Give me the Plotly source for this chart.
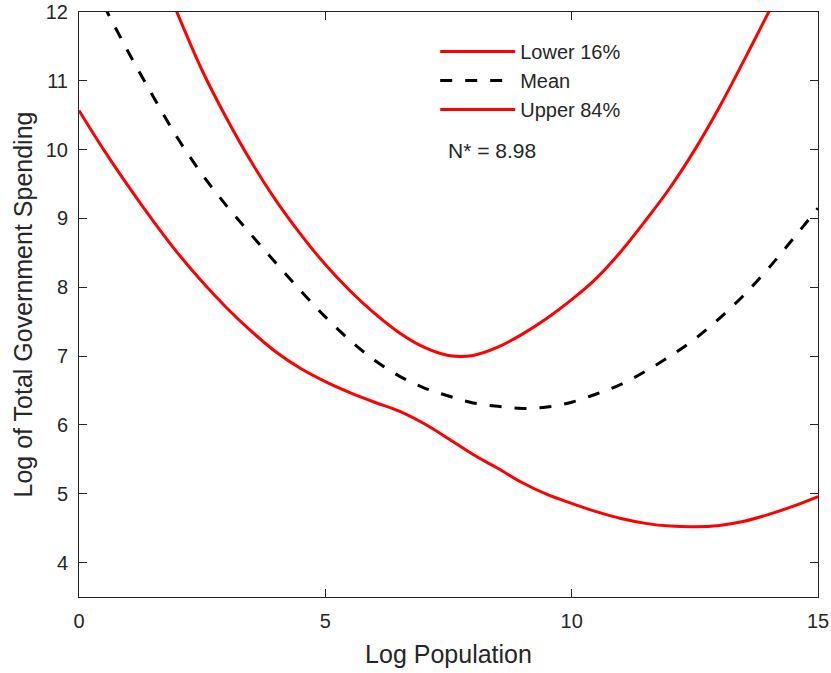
import plotly.graph_objects as go

# Lower 16% band
lower_x = [0, 0.5, 1.0, 1.5, 2.0, 2.5, 3.0, 3.5, 4.0, 4.5, 5.0, 5.5, 6.0, 6.5, 7.0, 7.5,
           8.0, 8.5, 9.0, 9.5, 10.0, 10.5, 11.0, 11.5, 12.0, 12.5, 13.0, 13.5, 14.0, 14.5, 15.0]
lower_y = [10.57, 10.0, 9.47, 8.97, 8.5, 8.08, 7.7, 7.36, 7.06, 6.82, 6.63, 6.47, 6.33, 6.2, 6.02, 5.8,
           5.57, 5.37, 5.16, 4.99, 4.86, 4.74, 4.64, 4.57, 4.53, 4.52, 4.54, 4.6, 4.7, 4.82, 4.96]

# Mean
mean_x = [0.5, 1.0, 1.5, 2.0, 2.5, 3.0, 3.5, 4.0, 4.5, 5.0, 5.5, 6.0, 6.5, 7.0, 7.5, 8.0,
          8.5, 9.0, 9.5, 10.0, 10.5, 11.0, 11.5, 12.0, 12.5, 13.0, 13.5, 14.0, 14.5, 15.0]
mean_y = [12.1, 11.42, 10.78, 10.17, 9.64, 9.18, 8.76, 8.35, 7.95, 7.57, 7.23, 6.94, 6.71, 6.54, 6.42, 6.32,
          6.27, 6.24, 6.26, 6.33, 6.45, 6.59, 6.78, 7.0, 7.25, 7.55, 7.89, 8.28, 8.71, 9.15]

# Upper 84% band
upper_x = [1.9, 2.5, 3.0, 3.5, 4.0, 4.5, 5.0, 5.5, 6.0, 6.5, 7.0, 7.5, 8.0, 8.5, 9.0, 9.5,
           10.0, 10.5, 11.0, 11.5, 12.0, 12.5, 13.0, 13.5, 14.0, 14.3]
upper_y = [12.15, 11.15, 10.45, 9.82, 9.26, 8.77, 8.33, 7.95, 7.62, 7.34, 7.13, 7.01, 7.01, 7.13, 7.32, 7.55,
           7.82, 8.13, 8.52, 8.97, 9.45, 10.0, 10.62, 11.3, 12.0, 12.42]

x_ticks = [0, 5, 10, 15]
y_ticks = [4, 5, 6, 7, 8, 9, 10, 11, 12]
n_star_label = "N* = 8.98"

FONT = "Liberation Sans, Arial, sans-serif"
AXC = "#262626"

fig = go.Figure()
fig.add_trace(go.Scatter(x=lower_x, y=lower_y, mode="lines", name="Lower 16%",
                         line=dict(color="#ff0000", width=3, shape="spline")))
fig.add_trace(go.Scatter(x=mean_x, y=mean_y, mode="lines", name="Mean",
                         line=dict(color="#000000", width=3, dash="12px,13px", shape="spline")))
fig.add_trace(go.Scatter(x=upper_x, y=upper_y, mode="lines", name="Upper 84%",
                         line=dict(color="#ff0000", width=3, shape="spline")))

axis_common = dict(showgrid=False, zeroline=False, showline=True, linecolor=AXC, linewidth=1,
                   mirror="ticks", ticks="inside", ticklen=8, tickcolor=AXC, tickwidth=1,
                   automargin=False,
                   tickfont=dict(family=FONT, size=20, color=AXC))

fig.update_layout(
    width=831, height=673,
    margin=dict(l=79, r=13, t=12, b=76, autoexpand=False),
    paper_bgcolor="white", plot_bgcolor="white",
    font=dict(family=FONT, color=AXC),
    xaxis=dict(range=[0, 15], tickvals=x_ticks, ticklabelstandoff=6,
               title=dict(text="Log Population", font=dict(family=FONT, size=25, color=AXC), standoff=14),
               **axis_common),
    yaxis=dict(range=[3.5, 12], tickvals=y_ticks, ticklabelstandoff=6,
               title=dict(text="Log of Total Government Spending", font=dict(family=FONT, size=25, color=AXC), standoff=6),
               **axis_common),
    showlegend=True,
    legend=dict(x=0.482, y=0.966, xanchor="left", yanchor="top", bgcolor="rgba(0,0,0,0)",
                font=dict(family=FONT, size=20, color=AXC), itemwidth=75, tracegroupgap=0),
    annotations=[dict(x=0.497, y=0.764, xref="paper", yref="paper", xanchor="left", yanchor="middle",
                      text=n_star_label, showarrow=False, font=dict(family=FONT, size=21, color=AXC))],
)

fig.write_html("out.html")
